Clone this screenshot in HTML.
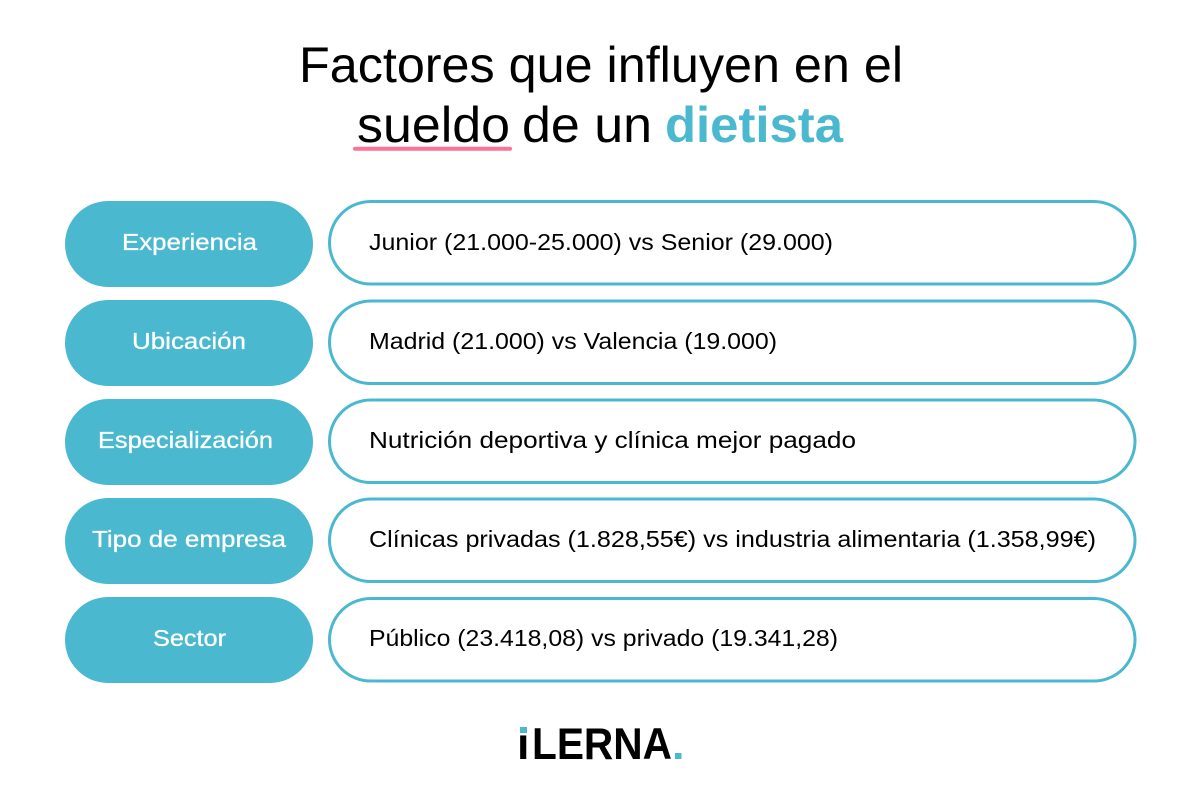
<!DOCTYPE html>
<html lang="es">
<head>
<meta charset="utf-8">
<title>Factores que influyen en el sueldo de un dietista</title>
<style>
html,body{margin:0;padding:0;background:#fff;width:1201px;height:800px;overflow:hidden}
svg{display:block}
text{font-family:"Liberation Sans",sans-serif}
.t{font-size:50px;fill:#000}
.l{font-size:23px;fill:#fff;text-anchor:middle;stroke:#fff;stroke-width:.3px}
.r{font-size:23px;fill:#000}
</style>
</head>
<body>
<svg width="1201" height="800" viewBox="0 0 1201 800" xmlns="http://www.w3.org/2000/svg">
<rect width="1201" height="800" fill="#fff"/>

<text class="t" x="299" y="82" textLength="604" lengthAdjust="spacingAndGlyphs">Factores que influyen en el</text>
<text class="t" x="357" y="142" textLength="153" lengthAdjust="spacingAndGlyphs">sueldo</text>
<text class="t" x="522" y="142" textLength="130" lengthAdjust="spacingAndGlyphs">de un</text>
<text class="t" x="665" y="142" textLength="178" lengthAdjust="spacingAndGlyphs" font-weight="700" style="fill:#4ab8cf">dietista</text>
<rect x="353" y="146.700" width="159" height="4" rx="2" fill="#fb7396"/>

<g>
<rect x="65" y="201" width="248" height="86" rx="43" fill="#4ab8cf"/>
<text class="l" x="189.500" y="250" textLength="135" lengthAdjust="spacingAndGlyphs">Experiencia</text>
<rect x="329.500" y="201.500" width="805.500" height="82.500" rx="41.250" fill="#fff" stroke="#4ab8cf" stroke-width="3"/>
<text class="r" x="369" y="250" textLength="464" lengthAdjust="spacingAndGlyphs">Junior (21.000-25.000) vs Senior (29.000)</text>
</g>

<g>
<rect x="65" y="300" width="248" height="86" rx="43" fill="#4ab8cf"/>
<text class="l" x="189" y="349" textLength="114" lengthAdjust="spacingAndGlyphs">Ubicación</text>
<rect x="329.500" y="301" width="805.500" height="82.500" rx="41.250" fill="#fff" stroke="#4ab8cf" stroke-width="3"/>
<text class="r" x="369" y="349" textLength="408" lengthAdjust="spacingAndGlyphs">Madrid (21.000) vs Valencia (19.000)</text>
</g>

<g>
<rect x="65" y="399" width="248" height="86" rx="43" fill="#4ab8cf"/>
<text class="l" x="185.500" y="448" textLength="175" lengthAdjust="spacingAndGlyphs">Especialización</text>
<rect x="329.500" y="400" width="805.500" height="82.500" rx="41.250" fill="#fff" stroke="#4ab8cf" stroke-width="3"/>
<text class="r" x="369" y="448" textLength="487" lengthAdjust="spacingAndGlyphs">Nutrición deportiva y clínica mejor pagado</text>
</g>

<g>
<rect x="65" y="498" width="248" height="86" rx="43" fill="#4ab8cf"/>
<text class="l" x="189" y="547" textLength="194" lengthAdjust="spacingAndGlyphs">Tipo de empresa</text>
<rect x="329.500" y="499" width="805.500" height="82.500" rx="41.250" fill="#fff" stroke="#4ab8cf" stroke-width="3"/>
<text class="r" x="369" y="547" textLength="727" lengthAdjust="spacingAndGlyphs">Clínicas privadas (1.828,55€) vs industria alimentaria (1.358,99€)</text>
</g>

<g>
<rect x="65" y="597" width="248" height="86" rx="43" fill="#4ab8cf"/>
<text class="l" x="189.500" y="646" textLength="73" lengthAdjust="spacingAndGlyphs">Sector</text>
<rect x="329.500" y="598.500" width="805.500" height="82.500" rx="41.250" fill="#fff" stroke="#4ab8cf" stroke-width="3"/>
<text class="r" x="369" y="646" textLength="469" lengthAdjust="spacingAndGlyphs">Público (23.418,08) vs privado (19.341,28)</text>
</g>

<g>
<text x="517" y="759" font-size="44.500" font-weight="700" fill="#000">ı</text>
<text x="532" y="759" font-size="44.500" font-weight="700" fill="#000" textLength="140" lengthAdjust="spacingAndGlyphs">LERNA</text>
<rect x="520" y="727" width="7" height="6" fill="#4ab8cf"/>
<rect x="675" y="753" width="6.500" height="6" fill="#4ab8cf"/>
</g>
</svg>
</body>
</html>
